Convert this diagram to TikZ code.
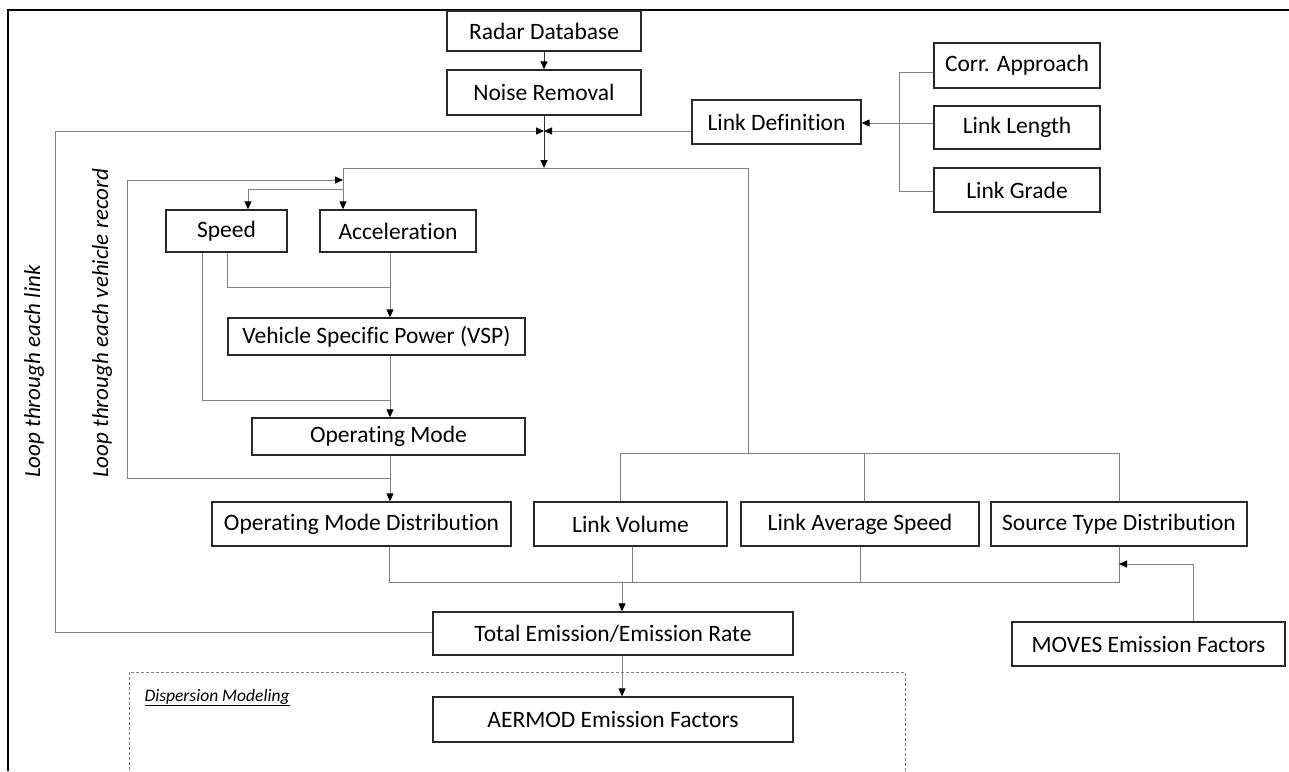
\documentclass[tikz,border=0pt]{standalone}
\usepackage{fontspec}
\setmainfont{Carlito}[Ligatures={NoCommon}]
\usetikzlibrary{arrows.meta}
\definecolor{conn}{RGB}{128,128,128}
\definecolor{boxc}{RGB}{40,40,40}
\tikzset{
  box/.style={draw=boxc, line width=1.3pt, fill=white, inner sep=0pt, font=\fontsize{23.5}{27}\selectfont, text=black},
  wire/.style={draw=conn, line width=1pt},
  arr/.style={draw=conn, line width=1pt, -{Triangle[length=8pt,width=7pt,color=black]}},
  looplabel/.style={font=\fontsize{23}{27}\selectfont\itshape, rotate=90, anchor=west, text=black, inner sep=0pt},
}
\begin{document}
\begin{tikzpicture}[x=1pt,y=-1pt]
\useasboundingbox (0,0) rectangle (1289,771);
% frame
\draw[black, line width=2.5pt] (8,771) -- (8,10) -- (1289,10);
% dashed region
\draw[conn, dashed, line width=0.8pt, dash pattern=on 3pt off 2pt] (129,780) -- (129,672) -- (905,672) -- (905,780);
\node[anchor=base west, font=\fontsize{17.5}{21}\selectfont\itshape] (disp) at (141,701) {\underline{Dispersion Modeling}};

% boxes
\node[box, minimum width=194pt, minimum height=40pt] (radar) at (544,31) {Radar Database};
\node[box, minimum width=194pt, minimum height=45pt] (noise) at (544,92.5) {Noise Removal};
\node[box, minimum width=169pt, minimum height=44pt] (linkdef) at (776.5,122) {Link Definition};
\node[box, minimum width=166pt, minimum height=45pt] (corr) at (1017,65.5) {Corr. Approach};
\node[box, minimum width=166pt, minimum height=43pt] (llen) at (1017,127.5) {Link Length};
\node[box, minimum width=166pt, minimum height=44pt] (lgrade) at (1017,190) {Link Grade};
\node[box, minimum width=121pt, minimum height=42pt] (speed) at (226.5,231) {Speed};
\node[box, minimum width=156pt, minimum height=42pt] (accel) at (398,231) {Acceleration};
\node[box, minimum width=297pt, minimum height=37pt] (vsp) at (376.5,336.5) {Vehicle Specific Power (VSP)};
\node[box, minimum width=273pt, minimum height=37pt] (om) at (388.5,436.5) {Operating Mode};
\node[box, minimum width=299pt, minimum height=44pt] (omd) at (361.5,524) {Operating Mode Distribution};
\node[box, minimum width=193pt, minimum height=44pt] (lvol) at (630.5,524) {Link Volume};
\node[box, minimum width=238pt, minimum height=44pt] (lavg) at (860,524) {Link Average Speed};
\node[box, minimum width=256pt, minimum height=44pt] (src) at (1119,524) {Source Type Distribution};
\node[box, minimum width=360pt, minimum height=43pt] (total) at (613,633.5) {Total Emission/Emission Rate};
\node[box, minimum width=273pt, minimum height=44pt] (moves) at (1148.5,644) {MOVES Emission Factors};
\node[box, minimum width=360pt, minimum height=45pt] (aermod) at (613,719.5) {AERMOD Emission Factors};

% loop labels
\node[looplabel] (lbllink) at (34,478) {Loop through each link};
\node[looplabel] (lblveh) at (102,478) {Loop through each vehicle record};

% junction coordinates
\coordinate (J) at (544,131);
\coordinate (H1) at (544,168);
\coordinate (A1) at (343,180);
\coordinate (C1) at (1119,582);

% top chain
\draw[arr, draw=black!80] (radar.south) -- (noise.north);
\draw[arr, draw=black!80] (noise.south) -- (H1);
\draw[arr] (total.west |- 0,632) -- (55,632) -- (55,131) -- (J);
\draw[arr] (linkdef.west |- J) -- (J);
\draw[arr] (llen.west |- 0,123) -- (linkdef.east |- 0,123);
\draw[wire] (corr.west |- 0,72) -- (899,72) -- (899,191) -- (lgrade.west |- 0,191);

% distribution line
\draw[wire] (343,168) -- (748,168) -- (748,453);
\draw[wire] (lvol.north -| 620,0) -- (620,453) -- (src.north |- 0,453) -- (src.north);
\draw[wire] (lavg.north -| 864,0) -- (864,453);

% inner loop
\draw[arr] (390,478) -- (127,478) -- (127,180) -- (A1);
\draw[arr] (343,168) -- (accel.north -| 343,0);
\draw[arr] (343,189) -- (248,189) -- (speed.north -| 248,0);
\draw[wire] (speed.south -| 227,0) -- (227,287) -- (390,287);
\draw[arr] (accel.south -| 390,0) -- (vsp.north -| 390,0);
\draw[wire] (speed.south -| 202,0) -- (202,400) -- (390,400);
\draw[arr] (vsp.south -| 390,0) -- (om.north -| 390,0);
\draw[arr] (om.south -| 390,0) -- (omd.north -| 390,0);

% collector
\draw[wire] (omd.south -| 389,0) -- (389,582) -- (C1) -- (src.south -| C1);
\draw[wire] (lvol.south -| 632,0) -- (632,582);
\draw[wire] (lavg.south -| 860,0) -- (860,582);
\draw[arr] (622,582) -- (total.north -| 622,0);
\draw[arr] (moves.north -| 1193,0) -- (1193,564) -- (1119,564);
\draw[arr] (total.south -| 622,0) -- (aermod.north -| 622,0);
\end{tikzpicture}
\end{document}
